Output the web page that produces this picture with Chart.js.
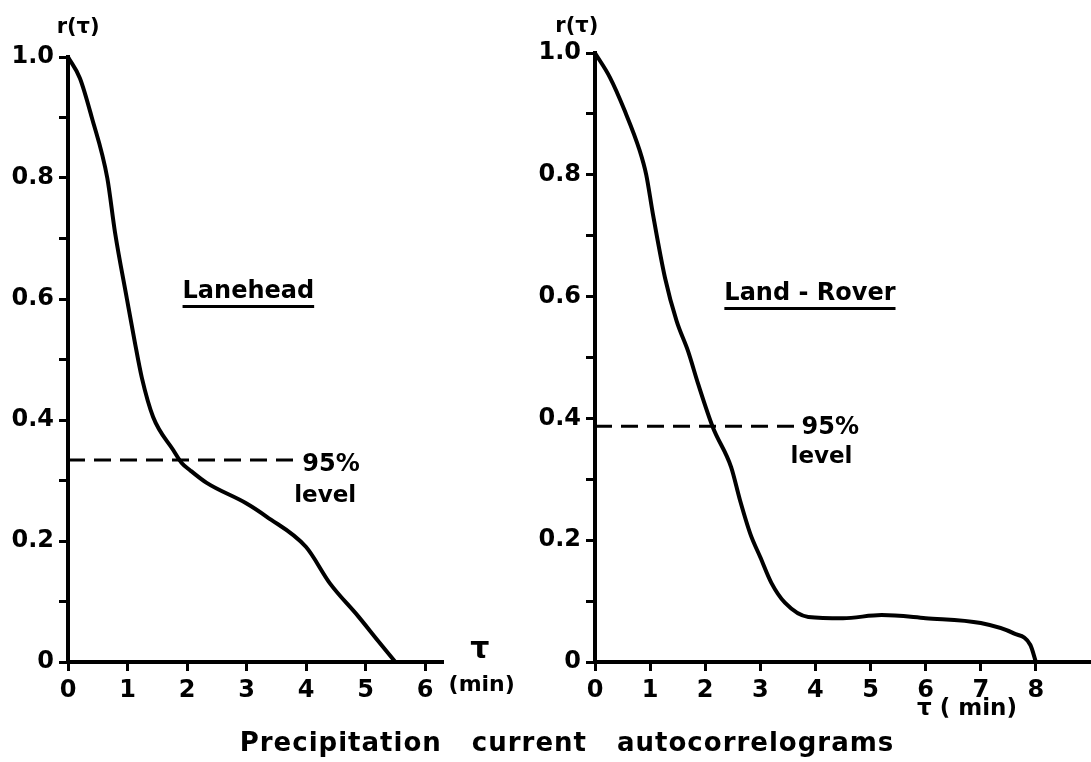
<!DOCTYPE html>
<html>
<head>
<meta charset="utf-8">
<script src="https://cdn.jsdelivr.net/npm/chart.js@4"></script>
<style>
  body { margin: 0; background: #fff; width: 1091px; height: 762px; position: relative; overflow: hidden; }
  canvas { position: absolute; top: 0; }
  #left { left: 0; }
  #right { left: 530px; }
  #caption {
    position: absolute; left: 0; width: 1134px; top: 727px; text-align: center;
    font: bold 26px "DejaVu Sans", sans-serif; word-spacing: 20px; letter-spacing: 1px; color: #000;
  }
</style>
</head>
<body>
<canvas id="left" width="530" height="762"></canvas>
<canvas id="right" width="561" height="762"></canvas>
<div id="caption">Precipitation current autocorrelograms</div>
<script>
// Lanehead autocorrelogram
const lanTau = [0, 0.2, 0.4, 0.66, 0.79, 0.99, 1.12, 1.24, 1.43, 1.77, 1.91, 2.05, 2.33, 3.0, 3.34, 4.0, 4.4, 4.88, 5.2, 5.5];
const lanR   = [1.0, 0.965, 0.9, 0.8, 0.71, 0.6, 0.53, 0.47, 0.405, 0.35, 0.329, 0.317, 0.296, 0.262, 0.24, 0.19, 0.13, 0.075, 0.036, 0];
const lanLevel = 0.334;
const lanLevelEnd = 3.9;

// Land-Rover autocorrelogram
const roverTau = [0, 0.27, 0.54, 0.81, 0.93, 1.05, 1.27, 1.48, 1.69, 1.87, 2.14, 2.47, 2.63, 2.82, 3.0, 3.2, 3.45, 3.87, 4.5, 5.2, 6.0, 7.0, 7.6, 7.9, 8.0];
const roverR   = [1.0, 0.96, 0.905, 0.84, 0.8, 0.736, 0.631, 0.56, 0.51, 0.457, 0.385, 0.32, 0.266, 0.21, 0.172, 0.13, 0.097, 0.074, 0.072, 0.077, 0.072, 0.064, 0.047, 0.028, 0];
const roverLevel = 0.387;
const roverLevelEnd = 3.75;

const yTickSteps  = [0, 0.1, 0.2, 0.3, 0.4, 0.5, 0.6, 0.7, 0.8, 0.9, 1.0];
const yTickValues = [0, 0.2, 0.4, 0.6, 0.8, 1.0];
const yTickLabels = ['0', '0.2', '0.4', '0.6', '0.8', '1.0'];
const lanXTicks   = [0, 1, 2, 3, 4, 5, 6];
const roverXTicks = [0, 1, 2, 3, 4, 5, 6, 7, 8];

const FONT = '"DejaVu Sans", sans-serif';

const notesPlugin = {
  id: 'notes',
  afterDatasetsDraw(chart, args, opts) {
    const { ctx, scales: { x, y } } = chart;
    ctx.save();
    ctx.fillStyle = '#000';
    ctx.strokeStyle = '#000';
    ctx.textAlign = 'center';
    ctx.textBaseline = 'middle';
    opts.items.forEach(n => {
      ctx.font = 'bold ' + n.size + 'px ' + FONT;
      const px = x.getPixelForValue(n.x);
      const py = y.getPixelForValue(n.y);
      ctx.fillText(n.text, px, py);
      if (n.underline) {
        const w = ctx.measureText(n.text).width;
        ctx.lineWidth = 3;
        ctx.beginPath();
        ctx.moveTo(px - w / 2, py + n.size * 0.62);
        ctx.lineTo(px + w / 2, py + n.size * 0.62);
        ctx.stroke();
      }
    });
    ctx.restore();
  }
};

function pairs(xs, ys) {
  return xs.map((v, i) => ({ x: v, y: ys[i] }));
}

function makeChart(id, tau, r, level, levelEnd, xMax, xTicks, axisWidth, top, padRight, notes) {
  const ctx = document.getElementById(id).getContext('2d');
  return new Chart(ctx, {
    type: 'line',
    data: {
      datasets: [
        {
          data: pairs(tau, r),
          borderColor: '#000',
          borderWidth: 4,
          pointRadius: 0,
          cubicInterpolationMode: 'monotone',
          clip: false
        },
        {
          data: [{ x: 0, y: level }, { x: levelEnd, y: level }],
          borderColor: '#000',
          borderWidth: 3,
          borderDash: [17, 9],
          pointRadius: 0
        }
      ]
    },
    options: {
      responsive: false,
      animation: false,
      devicePixelRatio: 1,
      layout: { padding: { top: top, right: padRight, left: 0, bottom: 0 } },
      plugins: {
        legend: { display: false },
        tooltip: { enabled: false },
        notes: { items: notes }
      },
      scales: {
        x: {
          type: 'linear',
          min: 0,
          max: xMax,
          afterBuildTicks: s => { s.ticks = xTicks.map(v => ({ value: v })); },
          afterFit: s => { s.height = 100; },
          border: { color: '#000', width: 4 },
          grid: { drawOnChartArea: false, tickLength: 9, tickWidth: 3, tickColor: '#000' },
          ticks: { color: '#000', padding: 5, font: { family: FONT, size: 24, weight: 'bold' }, maxRotation: 0 }
        },
        y: {
          type: 'linear',
          min: 0,
          max: 1.0,
          afterBuildTicks: s => { s.ticks = yTickSteps.map(v => ({ value: v })); },
          afterFit: s => { s.width = axisWidth; },
          border: { color: '#000', width: 4 },
          grid: { drawOnChartArea: false, tickLength: 9, tickWidth: 3, tickColor: '#000' },
          ticks: {
            color: '#000',
            padding: 5,
            font: { family: FONT, size: 24, weight: 'bold' },
            callback: v => {
              const i = yTickValues.indexOf(Math.round(v * 10) / 10);
              return i >= 0 ? yTickLabels[i] : '';
            }
          }
        }
      }
    },
    plugins: [notesPlugin]
  });
}

makeChart('left', lanTau, lanR, lanLevel, lanLevelEnd, 6.3, lanXTicks, 68, 57, 87, [
  { text: 'r(τ)', x: 0.17, y: 1.048, size: 21 },
  { text: 'Lanehead', x: 3.03, y: 0.612, size: 24, underline: true },
  { text: '95%', x: 4.42, y: 0.326, size: 24 },
  { text: 'level', x: 4.32, y: 0.274, size: 23 },
  { text: 'τ', x: 6.92, y: 0.02, size: 30 },
  { text: '(min)', x: 6.95, y: -0.038, size: 22 }
]);

makeChart('right', roverTau, roverR, roverLevel, roverLevelEnd, 9, roverXTicks, 65, 53, 0, [
  { text: 'r(τ)', x: -0.33, y: 1.044, size: 21 },
  { text: 'Land - Rover', x: 3.9, y: 0.605, size: 24, underline: true },
  { text: '95%', x: 4.27, y: 0.385, size: 24 },
  { text: 'level', x: 4.11, y: 0.336, size: 23 },
  { text: 'τ ( min)', x: 6.75, y: -0.077, size: 23 }
]);
</script>
</body>
</html>
